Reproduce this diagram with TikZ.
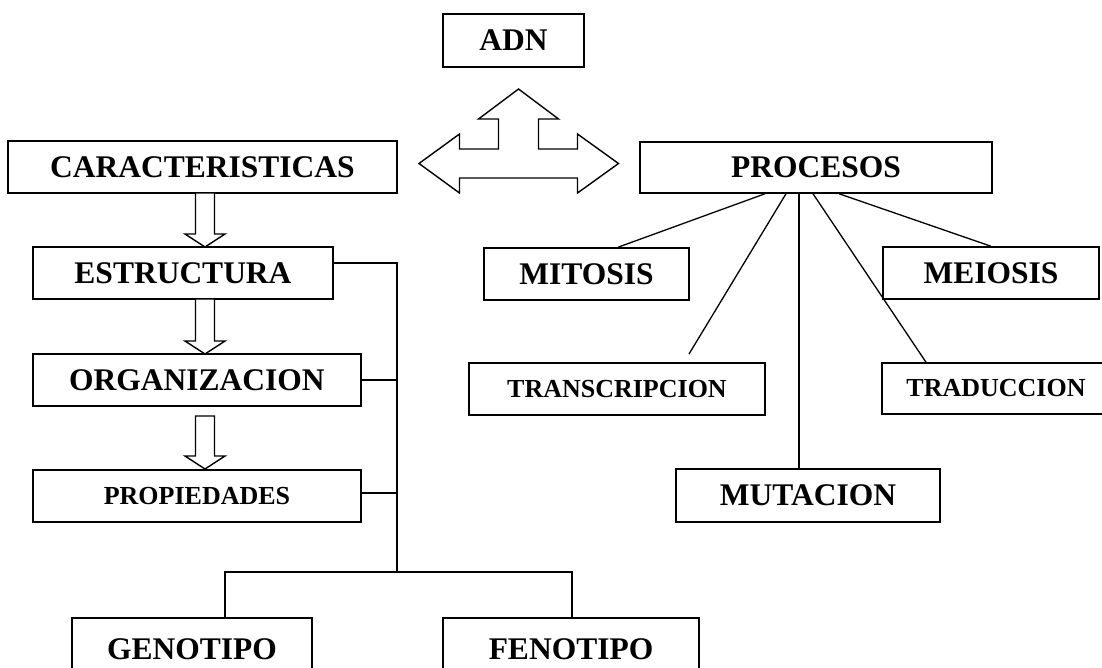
\documentclass[tikz,border=0pt]{standalone}
\usepackage{fontspec}
\setmainfont{Liberation Serif}
\tikzset{
  box/.style={draw, line width=1.5pt, fill=white, inner sep=0pt, font=\bfseries\fontsize{31.5}{36}\selectfont},
  sbox/.style={box, font=\bfseries\fontsize{26}{30}\selectfont},
  link/.style={line width=1.3pt},
  blockarrow/.style={draw, line width=1.4pt, line join=miter, fill=white}
}
\newcommand\bdarrow[3]{%
  \path[blockarrow] (#1-9.5,#2) -- (#1+9.5,#2) -- (#1+9.5,#3-13) -- (#1+20,#3-13)
    -- (#1,#3) -- (#1-20,#3-13) -- (#1-9.5,#3-13) -- cycle;}
\begin{document}
\begin{tikzpicture}[x=1pt,y=-1pt]
\useasboundingbox (0,0) rectangle (1102,667);
% nodes
\node[box, minimum width=141pt, minimum height=53pt] (adn) at (513.5,40.5) {ADN};
\node[box, minimum width=389pt, minimum height=52pt] (car) at (202.5,167) {CARACTERISTICAS};
\node[box, minimum width=300pt, minimum height=52pt] (est) at (183,273) {ESTRUCTURA};
\node[box, minimum width=328pt, minimum height=52pt] (org) at (197,380) {ORGANIZACION};
\node[sbox, minimum width=328pt, minimum height=52pt] (prop) at (197,496) {PROPIEDADES};
\node[box, minimum width=240pt, minimum height=62pt] (gen) at (192,649) {GENOTIPO};
\node[box, minimum width=256pt, minimum height=62pt] (fen) at (571,649) {FENOTIPO};
\node[box, minimum width=352pt, minimum height=51pt] (pro) at (816,167.5) {PROCESOS};
\node[box, minimum width=205pt, minimum height=52pt] (mit) at (586.5,274) {MITOSIS};
\node[box, minimum width=216pt, minimum height=52pt] (mei) at (991,273) {MEIOSIS};
\node[sbox, minimum width=296pt, minimum height=52pt] (tra) at (617,389) {TRANSCRIPCION};
\node[sbox, minimum width=228pt, minimum height=51pt] (trad) at (996,388.5) {TRADUCCION};
\node[box, minimum width=264pt, minimum height=53pt] (mut) at (808,495.5) {MUTACION};
% three-way block arrow
\path[blockarrow] (518.5,89) -- (558.5,119) -- (538.5,119) -- (538.5,149) -- (577.5,149)
  -- (577.5,134) -- (618.5,163.5) -- (577.5,193) -- (577.5,178) -- (459.5,178)
  -- (459.5,193) -- (419,163.5) -- (459.5,134) -- (459.5,149) -- (498.5,149)
  -- (498.5,119) -- (478.5,119) -- cycle;
% down block arrows
\bdarrow{205}{193}{247}
\bdarrow{205}{299}{354}
\bdarrow{205}{416}{469}
% left tree
\coordinate (jt) at (397,263);
\coordinate (jb) at (397,572);
\draw[link] ([yshift=10pt]est.east) -- (jt) -- (jb);
\draw[link] (org.east) -- (org.east -| jt);
\draw[link] ([yshift=3pt]prop.east) -- ([yshift=3pt]prop.east -| jt);
\draw[link] ([xshift=33pt]gen.north) |- (jb) -| ([xshift=1pt]fen.north);
% process lines
\coordinate (tend) at (689,354);
\draw[link] ([xshift=-51pt]pro.south) -- ([xshift=31.5pt]mit.north);
\draw[link] ([xshift=-30pt]pro.south) -- (tend);
\draw[link] ([xshift=-17pt]pro.south) -- ([xshift=-9pt]mut.north);
\draw[link] ([xshift=-3pt]pro.south) -- ([xshift=-70pt]trad.north);
\draw[link] ([xshift=23pt]pro.south) -- (mei.north);
\end{tikzpicture}
\end{document}
